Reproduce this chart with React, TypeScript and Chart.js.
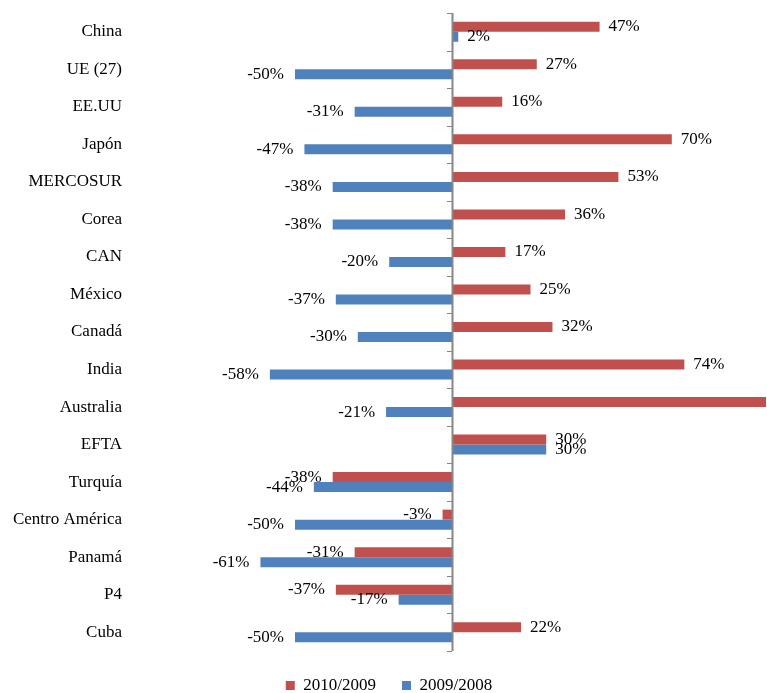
import React, { useEffect, useRef } from "react";
import { Chart, registerables } from "chart.js";

Chart.register(...registerables);

const categories = [
  "China", "UE (27)", "EE.UU", "Japón", "MERCOSUR", "Corea", "CAN", "México",
  "Canadá", "India", "Australia", "EFTA", "Turquía", "Centro América", "Panamá", "P4", "Cuba",
];
const series2010_2009 = [47, 27, 16, 70, 53, 36, 17, 25, 32, 74, 118, 30, -38, -3, -31, -37, 22];
const series2009_2008 = [2, -50, -31, -47, -38, -38, -20, -37, -30, -58, -21, 30, -44, -50, -61, -17, -50];
const seriesNames = ["2010/2009", "2009/2008"];
const axisMin = -100;
const axisMax = 100;

const FONT = "'Liberation Serif', 'Times New Roman', serif";

const zeroAxisAndLabels = {
  id: "zeroAxisAndLabels",
  afterDatasetsDraw(chart: any) {
    const { ctx, scales } = chart;
    const x = scales.x;
    const y = scales.y;
    const x0 = x.getPixelForValue(0);
    ctx.save();
    ctx.strokeStyle = "#868686";
    ctx.lineWidth = 2;
    ctx.beginPath();
    ctx.moveTo(x0 + 0.5, y.top);
    ctx.lineTo(x0 + 0.5, y.bottom);
    ctx.stroke();
    ctx.lineWidth = 1;
    const n = categories.length;
    for (let i = 0; i <= n; i++) {
      let yy;
      if (i === 0) yy = y.top;
      else if (i === n) yy = y.bottom;
      else yy = (y.getPixelForValue(i - 1) + y.getPixelForValue(i)) / 2;
      yy = Math.round(yy) + 0.5;
      ctx.beginPath();
      ctx.moveTo(x0 - 5, yy);
      ctx.lineTo(x0, yy);
      ctx.stroke();
    }
    ctx.font = `17px ${FONT}`;
    ctx.fillStyle = "#000";
    ctx.textBaseline = "middle";
    chart.data.datasets.forEach((ds: any, di: number) => {
      const meta = chart.getDatasetMeta(di);
      meta.data.forEach((el: any, i: number) => {
        const v = ds.data[i];
        if (v > axisMax || v < axisMin) return;
        const txt = `${v}%`;
        if (v >= 0) {
          ctx.textAlign = "left";
          ctx.fillText(txt, el.x + 9, el.y);
        } else {
          ctx.textAlign = "right";
          ctx.fillText(txt, el.x - 11, el.y);
        }
      });
    });
    ctx.restore();
  },
};

export default function App() {
  const ref = useRef<HTMLCanvasElement>(null);
  useEffect(() => {
    if (!ref.current) return;
    Chart.defaults.font.family = FONT;
    const chart = new Chart(ref.current, {
      type: "bar",
      data: {
        labels: categories,
        datasets: [
          {
            label: seriesNames[0],
            data: series2010_2009,
            backgroundColor: "#C0504D",
            borderWidth: 0,
          },
          {
            label: seriesNames[1],
            data: series2009_2008,
            backgroundColor: "#4F81BD",
            borderWidth: 0,
          },
        ],
      },
      options: {
        indexAxis: "y",
        responsive: false,
        animation: false,
        devicePixelRatio: 1,
        datasets: {
          bar: { categoryPercentage: 0.533, barPercentage: 1 },
        },
        layout: { padding: { top: 13, left: 12, right: 1, bottom: -11 } },
        scales: {
          x: {
            type: "linear",
            min: axisMin,
            max: axisMax,
            display: false,
          },
          y: {
            type: "category",
            position: "left",
            grid: { display: false, drawTicks: false },
            border: { display: false },
            ticks: {
              padding: 16,
              color: "#000",
              font: { size: 17, family: FONT },
            },
            afterFit: (scale: any) => {
              scale.width = 126;
              scale.paddingTop = 0;
              scale.paddingBottom = 0;
            },
          },
        },
        plugins: {
          legend: {
            position: "bottom",
            labels: {
              boxWidth: 9,
              boxHeight: 9,
              padding: 26,
              color: "#000",
              font: { size: 17, family: FONT },
            },
          },
          tooltip: { enabled: false },
        },
      },
      plugins: [zeroAxisAndLabels],
    });
    return () => chart.destroy();
  }, []);
  return (
    <div style={{ position: "fixed", left: 0, top: 0, width: 767, height: 693, background: "#fff" }}>
      <canvas ref={ref} width={767} height={693} style={{ display: "block" }} />
    </div>
  );
}
